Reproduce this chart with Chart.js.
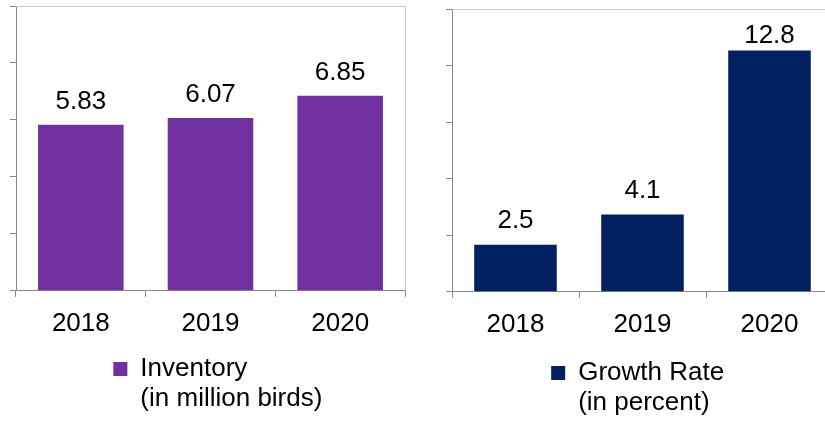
<!DOCTYPE html>
<html>
<head>
<meta charset="utf-8">
<script src="https://cdn.jsdelivr.net/npm/chart.js@4.4.0/dist/chart.umd.min.js"></script>
<style>
  html, body { margin: 0; padding: 0; background: #fff; overflow: hidden; width: 825px; height: 421px; }
  #inventoryChart { position: absolute; left: 0; top: 0; }
  #growthChart { position: absolute; left: 420px; top: 0; }
</style>
</head>
<body>
<canvas id="inventoryChart" width="548" height="421"></canvas>
<canvas id="growthChart" width="574" height="421"></canvas>
<script>
const years = ["2018", "2019", "2020"];
const inventory = [5.83, 6.07, 6.85];
const growthRate = [2.5, 4.1, 12.8];
const inventoryLabel = ["Inventory", "(in million birds)"];
const growthLabel = ["Growth Rate", "(in percent)"];
// y axis ranges: [min, max, step]
const inventoryAxis = [0, 10, 2];
const growthAxis = [0, 15, 3];

const FONT = "'Liberation Sans', Arial, sans-serif";
Chart.defaults.font.family = FONT;
Chart.defaults.font.size = 26;
Chart.defaults.color = "#000";

// value labels above bars, kept inside the plot at the top
const barValues = {
  id: "barValues",
  afterDatasetsDraw(chart, args, opts) {
    const ctx = chart.ctx;
    ctx.save();
    ctx.font = "26px " + FONT;
    ctx.fillStyle = "#000";
    ctx.textAlign = "center";
    ctx.textBaseline = "alphabetic";
    chart.data.datasets.forEach((ds, i) => {
      chart.getDatasetMeta(i).data.forEach((bar, j) => {
        const y = Math.max(bar.y - opts.gap, chart.chartArea.top + opts.minTop);
        ctx.fillText(String(ds.data[j]), bar.x, y);
      });
    });
    ctx.restore();
  }
};

// legend box only reserves one line; let the second line show
const legendRoom = {
  id: "legendRoom",
  afterLayout(chart) {
    const lg = chart.legend;
    if (!lg) return;
    lg.bottom = chart.height;
    lg.height = lg.bottom - lg.top;
  }
};

function makeChart(id, label, values, color, axis, o) {
  return new Chart(document.getElementById(id), {
    type: "bar",
    data: {
      labels: years,
      datasets: [{
        label: label,
        data: values,
        backgroundColor: color,
        barPercentage: o.barPct,
        categoryPercentage: 1
      }]
    },
    options: {
      responsive: false,
      animation: false,
      layout: { padding: { top: o.top, left: 0, right: 0, bottom: o.bottom } },
      plugins: {
        legend: {
          position: "bottom",
          labels: {
            boxWidth: 14,
            boxHeight: 14,
            padding: o.legendPad,
            color: "#000",
            font: { size: 26, lineHeight: 1.15 }
          }
        },
        tooltip: { enabled: false },
        barValues: { gap: o.gap, minTop: 34 }
      },
      scales: {
        x: {
          grid: { offset: true, drawOnChartArea: false, tickLength: 6, color: "#888" },
          border: { color: "#888" },
          ticks: { padding: 11, color: "#000", font: { size: 26 } }
        },
        y: {
          min: axis[0],
          max: axis[1],
          ticks: { stepSize: axis[2], display: false },
          grid: { drawOnChartArea: false, tickLength: 6, color: "#888" },
          border: { color: "#888" },
          afterFit: s => { s.width = o.left; }
        },
        top: {
          axis: "x",
          type: "category",
          position: "top",
          ticks: { display: false },
          grid: { display: false },
          border: { color: "#c8c8c8" },
          afterFit: s => { s.height = 0; }
        },
        right: {
          axis: "y",
          type: "linear",
          position: "right",
          ticks: { display: false },
          grid: { display: false },
          border: { color: "#c8c8c8" },
          afterFit: s => { s.width = o.right; }
        }
      }
    },
    plugins: [barValues, legendRoom]
  });
}

makeChart("inventoryChart", inventoryLabel, inventory, "#7030A0", inventoryAxis,
  { top: 6, bottom: 29, left: 16, right: 143, barPct: 0.66, gap: 16, legendPad: 6 });
makeChart("growthChart", growthLabel, growthRate, "#002060", growthAxis,
  { top: 9, bottom: 25, left: 32, right: 161, barPct: 0.65, gap: 17, legendPad: 9 });
</script>
</body>
</html>
